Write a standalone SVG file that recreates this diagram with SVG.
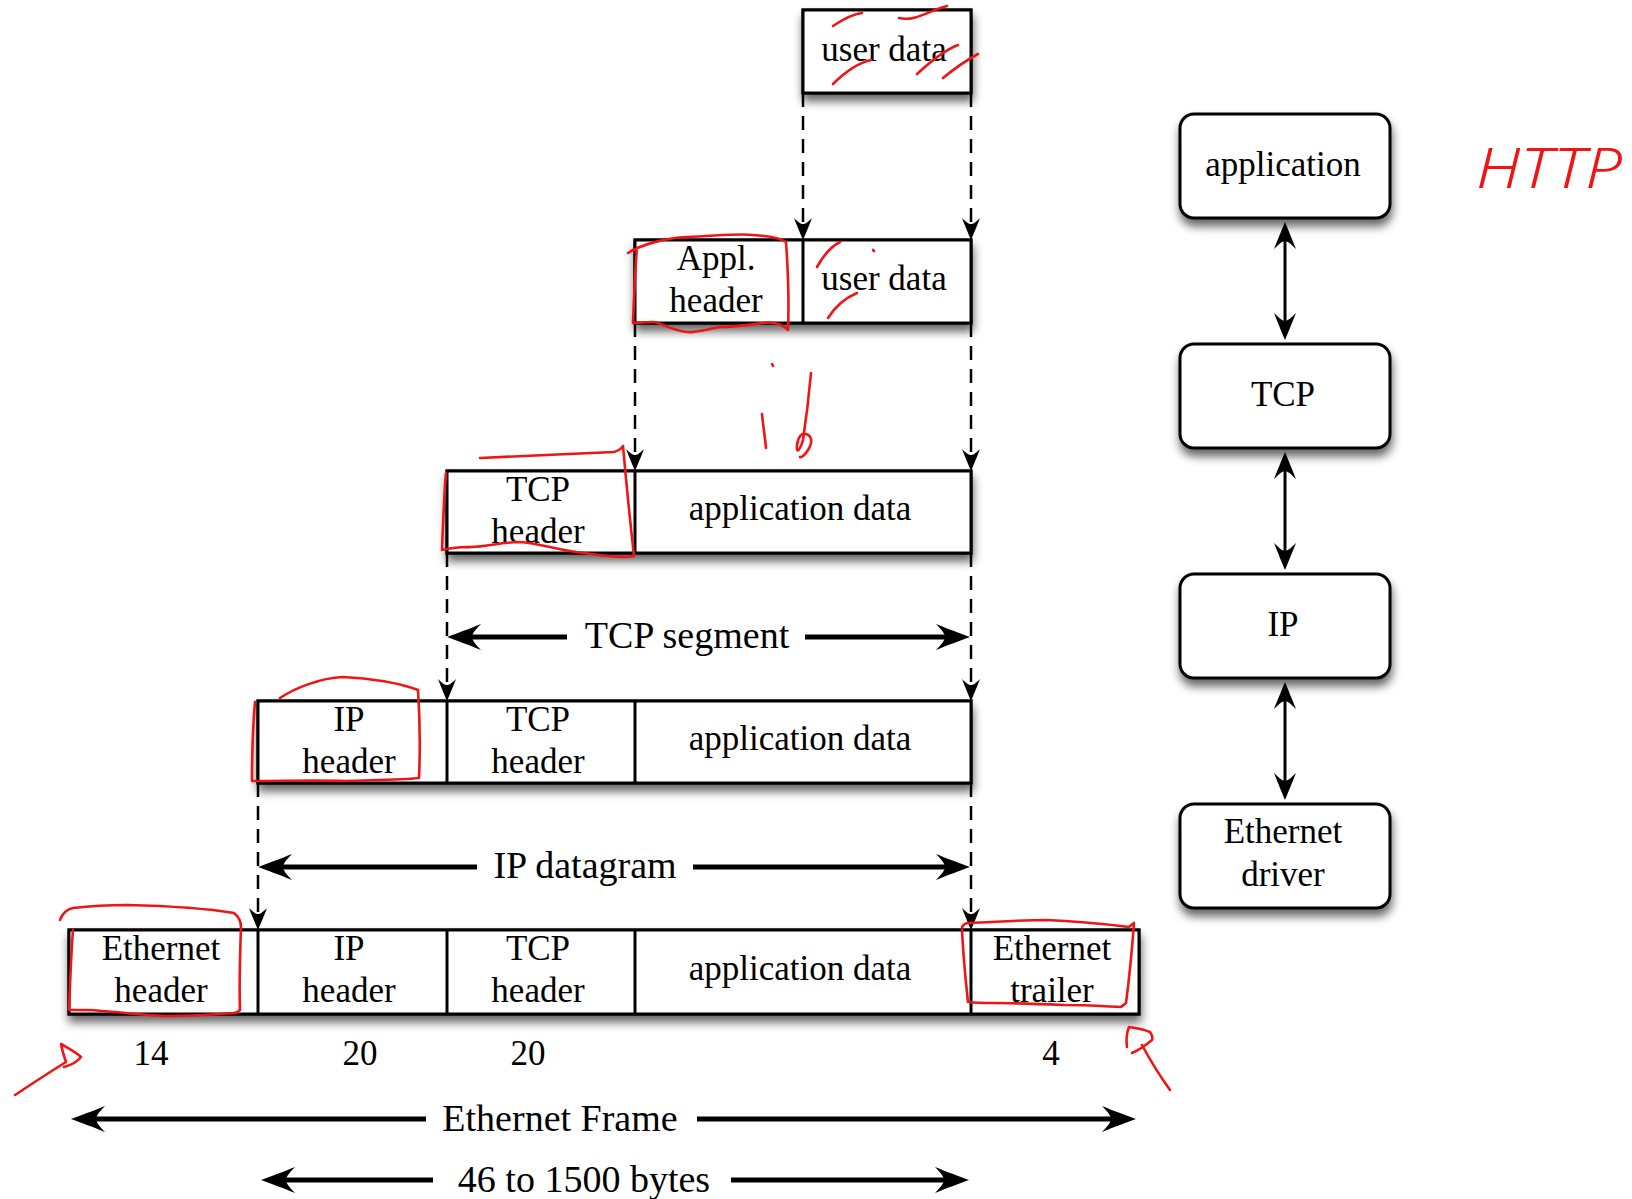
<svg xmlns="http://www.w3.org/2000/svg" width="1632" height="1199" viewBox="0 0 1632 1199">
<defs>
<style>
.t{font-family:"Liberation Serif","Times New Roman",serif;font-size:35px;text-anchor:middle;fill:#000}
.lbl{font-family:"Liberation Serif","Times New Roman",serif;font-size:38px;text-anchor:middle;fill:#000}
.box{fill:#fff;stroke:#000;stroke-width:3}
.div{stroke:#000;stroke-width:3}
.dash{stroke:#000;stroke-width:2.5;stroke-dasharray:14 9;fill:none}
.span{stroke:#000;stroke-width:5;fill:none}
.stk{stroke:#000;stroke-width:3;fill:none}
.red{stroke:#f01414;stroke-width:2.6;fill:none;stroke-linecap:round;stroke-linejoin:round}
</style>
<filter id="sh" x="-10%" y="-20%" width="120%" height="160%">
<feDropShadow dx="1" dy="7" stdDeviation="5" flood-color="#000" flood-opacity="0.6"/>
</filter>
<marker id="as" viewBox="-24 -11 26 22" markerWidth="26" markerHeight="22" refX="-8" refY="0" orient="auto-start-reverse" markerUnits="userSpaceOnUse">
<path d="M0,0 C-6,-2.5 -14,-6 -22,-9 C-17,-4 -16,-2 -16,0 C-16,2 -17,4 -22,9 C-14,6 -6,2.5 0,0Z" fill="#000"/>
</marker>
<marker id="am" viewBox="-30 -13 32 26" markerWidth="32" markerHeight="26" refX="-10" refY="0" orient="auto-start-reverse" markerUnits="userSpaceOnUse">
<path d="M0,0 C-7,-3 -17,-7 -27,-11 C-21,-5 -19,-2 -19,0 C-19,2 -21,5 -27,11 C-17,7 -7,3 0,0Z" fill="#000"/>
</marker>
<marker id="al" viewBox="-38 -15 40 30" markerWidth="40" markerHeight="30" refX="-12" refY="0" orient="auto-start-reverse" markerUnits="userSpaceOnUse">
<path d="M0,0 C-9,-3.5 -22,-8 -34,-13 C-27,-6 -25,-2.5 -25,0 C-25,2.5 -27,6 -34,13 C-22,8 -9,3.5 0,0Z" fill="#000"/>
</marker>
</defs>
<rect width="1632" height="1199" fill="#fff"/>

<g id="connectors">
<line class="dash" x1="803" y1="93" x2="803" y2="232" marker-end="url(#as)"/>
<line class="dash" x1="971" y1="93" x2="971" y2="232" marker-end="url(#as)"/>
<line class="dash" x1="635" y1="323" x2="635" y2="463" marker-end="url(#as)"/>
<line class="dash" x1="971" y1="323" x2="971" y2="463" marker-end="url(#as)"/>
<line class="dash" x1="447" y1="553" x2="447" y2="693" marker-end="url(#as)"/>
<line class="dash" x1="971" y1="553" x2="971" y2="693" marker-end="url(#as)"/>
<line class="dash" x1="258" y1="783" x2="258" y2="922" marker-end="url(#as)"/>
<line class="dash" x1="971" y1="783" x2="971" y2="922" marker-end="url(#as)"/>

<line class="span" x1="459" y1="637" x2="567" y2="637" marker-start="url(#al)"/>
<line class="span" x1="805" y1="637" x2="958" y2="637" marker-end="url(#al)"/>
<line class="span" x1="270" y1="867" x2="477" y2="867" marker-start="url(#al)"/>
<line class="span" x1="693" y1="867" x2="958" y2="867" marker-end="url(#al)"/>
<line class="span" x1="83" y1="1119" x2="426" y2="1119" marker-start="url(#al)"/>
<line class="span" x1="697" y1="1119" x2="1124" y2="1119" marker-end="url(#al)"/>
<line class="span" x1="273" y1="1180" x2="433" y2="1180" marker-start="url(#al)"/>
<line class="span" x1="731" y1="1180" x2="957" y2="1180" marker-end="url(#al)"/>

<line class="stk" x1="1285" y1="232" x2="1285" y2="330" marker-start="url(#am)" marker-end="url(#am)"/>
<line class="stk" x1="1285" y1="462" x2="1285" y2="560" marker-start="url(#am)" marker-end="url(#am)"/>
<line class="stk" x1="1285" y1="692" x2="1285" y2="790" marker-start="url(#am)" marker-end="url(#am)"/>
</g>

<g id="span-labels">
<text class="lbl" x="687" y="648">TCP segment</text>
<text class="lbl" x="585" y="878">IP datagram</text>
<text class="lbl" x="560" y="1131">Ethernet Frame</text>
<text class="lbl" x="584" y="1192">46 to 1500 bytes</text>
</g>

<g id="pkt-user">
<rect class="box" x="803" y="10" width="168" height="83" filter="url(#sh)"/>
<rect class="box" x="803" y="10" width="168" height="83"/>
<text class="t" x="884" y="61">user data</text>
</g>

<g id="pkt-appl">
<rect class="box" x="635" y="240" width="336" height="83" filter="url(#sh)"/>
<rect class="box" x="635" y="240" width="336" height="83"/>
<line class="div" x1="803" y1="240" x2="803" y2="323"/>
<text class="t" x="716" y="270">Appl.</text>
<text class="t" x="716" y="312">header</text>
<text class="t" x="884" y="290">user data</text>
</g>

<g id="pkt-tcp">
<rect class="box" x="447" y="471" width="524" height="82" filter="url(#sh)"/>
<rect class="box" x="447" y="471" width="524" height="82"/>
<line class="div" x1="635" y1="471" x2="635" y2="553"/>
<text class="t" x="538" y="501">TCP</text>
<text class="t" x="538" y="543">header</text>
<text class="t" x="800" y="520">application data</text>
</g>

<g id="pkt-ip">
<rect class="box" x="258" y="701" width="713" height="82" filter="url(#sh)"/>
<rect class="box" x="258" y="701" width="713" height="82"/>
<line class="div" x1="447" y1="701" x2="447" y2="783"/>
<line class="div" x1="635" y1="701" x2="635" y2="783"/>
<text class="t" x="349" y="731">IP</text>
<text class="t" x="349" y="773">header</text>
<text class="t" x="538" y="731">TCP</text>
<text class="t" x="538" y="773">header</text>
<text class="t" x="800" y="750">application data</text>
</g>

<g id="pkt-eth">
<rect class="box" x="69" y="930" width="1070" height="84" filter="url(#sh)"/>
<rect class="box" x="69" y="930" width="1070" height="84"/>
<line class="div" x1="258" y1="930" x2="258" y2="1014"/>
<line class="div" x1="447" y1="930" x2="447" y2="1014"/>
<line class="div" x1="635" y1="930" x2="635" y2="1014"/>
<line class="div" x1="971" y1="930" x2="971" y2="1014"/>
<text class="t" x="161" y="960">Ethernet</text>
<text class="t" x="161" y="1002">header</text>
<text class="t" x="349" y="960">IP</text>
<text class="t" x="349" y="1002">header</text>
<text class="t" x="538" y="960">TCP</text>
<text class="t" x="538" y="1002">header</text>
<text class="t" x="800" y="980">application data</text>
<text class="t" x="1052" y="960">Ethernet</text>
<text class="t" x="1052" y="1002">trailer</text>
</g>

<g id="sizes">
<text class="t" x="151" y="1065">14</text>
<text class="t" x="360" y="1065">20</text>
<text class="t" x="528" y="1065">20</text>
<text class="t" x="1051" y="1065">4</text>
</g>

<g id="layer-application">
<rect class="box" x="1180" y="114" width="210" height="104" rx="14" filter="url(#sh)"/>
<text class="t" x="1283" y="176">application</text>
</g>
<g id="layer-tcp">
<rect class="box" x="1180" y="344" width="210" height="104" rx="14" filter="url(#sh)"/>
<text class="t" x="1283" y="406">TCP</text>
</g>
<g id="layer-ip">
<rect class="box" x="1180" y="574" width="210" height="104" rx="14" filter="url(#sh)"/>
<text class="t" x="1283" y="636">IP</text>
</g>
<g id="layer-ethernet">
<rect class="box" x="1180" y="804" width="210" height="104" rx="14" filter="url(#sh)"/>
<text class="t" x="1283" y="843">Ethernet</text>
<text class="t" x="1283" y="886">driver</text>
</g>

<g id="annotations">
<path class="red" d="M833,26 C842,20 852,14 862,13"/>
<path class="red" d="M899,18 C915,22 930,10 947,6"/>
<path class="red" d="M833,84 C845,72 858,63 871,60"/>
<path class="red" d="M917,74 C930,62 945,50 958,45"/>
<path class="red" d="M943,78 C955,68 967,60 978,54"/>
<path class="red" d="M628,253 C640,245 665,238 687,237 C715,236 740,233 753,235 C770,236 780,238 786,242 C788,270 789,305 788,330 C780,322 770,322 763,323 C748,325 735,327 720,327 C705,330 695,333 687,332 C670,330 660,322 653,322 C645,322 638,323 633,323 C634,300 635,270 637,248"/>
<path class="red" d="M817,267 C822,258 830,247 840,242"/>
<path class="red" d="M873,250 l1,1"/>
<path class="red" d="M828,318 C835,307 845,298 857,293"/>
<path class="red" d="M772,364 l1,2"/>
<path class="red" d="M762,414 C763,425 765,437 766,448"/>
<path class="red" d="M811,373 C809,395 806,420 803,440 C800,450 796,455 797,445 C798,437 802,432 806,434 C812,436 813,442 808,450 C805,455 801,458 800,457"/>
<path class="red" d="M480,458 C520,456 570,454 614,452 C620,450 622,448 623,446 C626,480 630,520 634,556 C620,559 600,555 584,553 C560,551 540,543 519,542 C500,542 485,548 466,547 C455,547 447,549 442,550 C443,525 444,495 446,473"/>
<path class="red" d="M280,698 C295,688 320,678 343,677 C370,678 400,683 418,690 C420,720 420,755 419,778 C400,780 370,780 345,781 C315,780 285,781 252,781 C252,755 253,725 255,702"/>
<path class="red" d="M60,920 C63,912 68,909 73,908 C90,906 108,905 127,905 C170,906 210,909 234,913 C239,917 241,922 241,927 C240,955 239,985 240,1010 C238,1012 236,1013 234,1013 C210,1015 185,1016 165,1016 C140,1015 110,1011 88,1010 C80,1010 74,1010 69,1010 C70,985 71,955 73,930"/>
<path class="red" d="M962,927 C964,924 966,923 968,923 C995,922 1020,920 1046,920 C1075,921 1105,924 1129,927 C1131,925 1133,924 1134,923 C1132,950 1129,980 1126,1003 C1124,1005 1122,1006 1121,1007 C1100,1006 1085,1005 1064,1005 C1040,1004 1015,1003 993,1003 C985,1003 977,1003 968,1002 C965,975 963,950 962,930"/>
<path class="red" d="M15,1095 C30,1085 50,1072 66,1062 C64,1056 62,1050 61,1044 C68,1048 76,1052 81,1057 C77,1062 72,1065 64,1067"/>
<path class="red" d="M1127,1047 C1126,1040 1127,1032 1129,1027 C1137,1028 1145,1030 1150,1032 C1152,1035 1153,1038 1152,1040 C1146,1045 1139,1050 1132,1053 M1142,1045 C1150,1060 1160,1076 1170,1090"/>
<text x="1476" y="188" font-family="'Noto Sans', 'DejaVu Sans', sans-serif" font-size="56" font-weight="300" font-style="italic" fill="#f01414" textLength="146" lengthAdjust="spacingAndGlyphs">HTTP</text>
</g>
</svg>
